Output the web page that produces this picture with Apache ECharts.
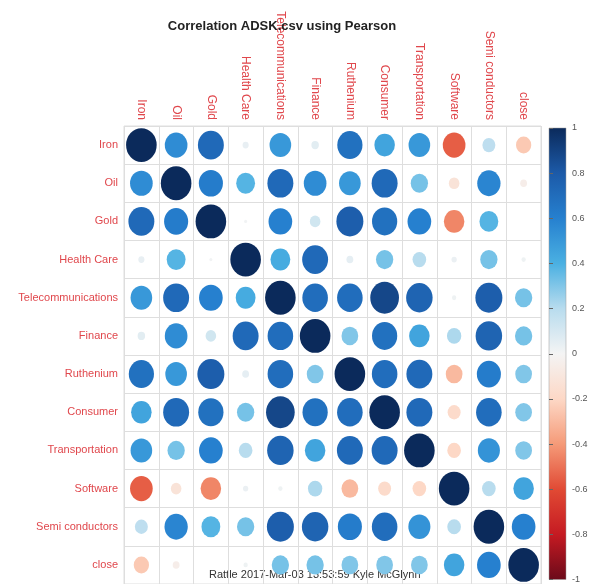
<!DOCTYPE html>
<html>
<head>
<meta charset="utf-8">
<script src="https://cdn.jsdelivr.net/npm/echarts@6/dist/echarts.min.js"></script>
<style>
  html, body { margin: 0; padding: 0; background: #ffffff; }
  #chart { width: 597px; height: 584px; }
</style>
</head>
<body>
<div id="chart"></div>
<script>
// Variables of the correlation matrix (columns and rows use the same order)
const variables = ['Iron', 'Oil', 'Gold', 'Health Care', 'Telecommunications', 'Finance',
  'Ruthenium', 'Consumer', 'Transportation', 'Software', 'Semi conductors', 'close'];

// Pearson correlation coefficients, one row per variable
const rowIron           = [ 1.00,  0.55,  0.72,  0.04,  0.50,  0.06,  0.68,  0.45,  0.50, -0.55,  0.18, -0.25];
const rowOil            = [ 0.55,  1.00,  0.62,  0.38,  0.72,  0.55,  0.50,  0.72,  0.32, -0.12,  0.58, -0.05];
const rowGold           = [ 0.72,  0.62,  1.00,  0.01,  0.60,  0.12,  0.78,  0.68,  0.60, -0.45,  0.38,  0.00];
const rowHealthCare     = [ 0.04,  0.38,  0.01,  1.00,  0.42,  0.72,  0.05,  0.32,  0.20,  0.03,  0.32,  0.02];
const rowTelecom        = [ 0.50,  0.72,  0.60,  0.42,  1.00,  0.70,  0.70,  0.88,  0.75,  0.02,  0.78,  0.32];
const rowFinance        = [ 0.06,  0.55,  0.12,  0.72,  0.70,  1.00,  0.30,  0.68,  0.45,  0.22,  0.75,  0.32];
const rowRuthenium      = [ 0.68,  0.50,  0.78,  0.05,  0.70,  0.30,  1.00,  0.70,  0.72, -0.30,  0.62,  0.30];
const rowConsumer       = [ 0.45,  0.72,  0.68,  0.32,  0.88,  0.68,  0.70,  1.00,  0.72, -0.18,  0.70,  0.30];
const rowTransportation = [ 0.50,  0.32,  0.60,  0.20,  0.75,  0.45,  0.72,  0.72,  1.00, -0.20,  0.52,  0.30];
const rowSoftware       = [-0.55, -0.12, -0.45,  0.03,  0.02,  0.22, -0.30, -0.18, -0.20,  1.00,  0.20,  0.45];
const rowSemi           = [ 0.18,  0.58,  0.38,  0.32,  0.78,  0.75,  0.62,  0.70,  0.52,  0.20,  1.00,  0.60];
const rowClose          = [-0.25, -0.05,  0.00,  0.02,  0.32,  0.32,  0.30,  0.30,  0.30,  0.45,  0.60,  1.00];

// Colour bar tick values
const colorbarTicks = [1, 0.8, 0.6, 0.4, 0.2, 0, -0.2, -0.4, -0.6, -0.8, -1];

// Diverging palette from -1 (dark red) to +1 (dark blue)
const palette = ['#6B0A1A', '#C51A22', '#E14A34', '#F59A78', '#FDD8C6', '#F4F4F4',
  '#B8DCEE', '#4AB0E2', '#2680CF', '#1C5AA8', '#0B2A5B'];

const matrix = [rowIron, rowOil, rowGold, rowHealthCare, rowTelecom, rowFinance,
  rowRuthenium, rowConsumer, rowTransportation, rowSoftware, rowSemi, rowClose];

const cells = [];
matrix.forEach(function (row, r) {
  row.forEach(function (v, c) {
    cells.push([variables[c], variables[r], v]);
  });
});

// Plot area geometry
const plot = { left: 124, top: 126, width: 417, height: 462 };
const cellW = plot.width / variables.length;
const cellH = plot.height / variables.length;

const labelRed = '#E0474C';
const lineGray = '#DEDEDE';

const chart = echarts.init(document.getElementById('chart'), null, { renderer: 'canvas' });

chart.setOption({
  backgroundColor: '#ffffff',
  animation: false,
  title: {
    text: 'Correlation ADSK.csv using Pearson',
    left: 277,
    textAlign: 'center',
    top: 15,
    textStyle: { fontFamily: 'Liberation Sans, Arial, sans-serif', fontSize: 13, fontWeight: 'bold', color: '#222' }
  },
  grid: [
    {
      left: plot.left, top: plot.top, width: plot.width, height: plot.height,
      show: true, borderColor: lineGray, borderWidth: 1, backgroundColor: '#ffffff'
    },
    {
      left: 549, top: 128, width: 17, height: 458,
      show: true, borderColor: '#9a9a9a', borderWidth: 0.5,
      backgroundColor: new echarts.graphic.LinearGradient(0, 1, 0, 0,
        palette.map(function (c, i) { return { offset: i / (palette.length - 1), color: c }; }))
    }
  ],
  xAxis: [
    {
      type: 'category', data: variables, position: 'top', gridIndex: 0,
      axisLine: { show: false }, axisTick: { show: false },
      splitLine: { show: true, interval: 0, lineStyle: { color: lineGray, width: 1 } },
      axisLabel: {
        rotate: 90, interval: 0, margin: 6, color: labelRed,
        fontFamily: 'Liberation Sans, Arial, sans-serif', fontSize: 12
      }
    },
    { type: 'value', gridIndex: 1, show: false, min: 0, max: 1 }
  ],
  yAxis: [
    {
      type: 'category', data: variables, inverse: true, gridIndex: 0,
      axisLine: { show: false }, axisTick: { show: false },
      splitLine: { show: true, interval: 0, lineStyle: { color: lineGray, width: 1 } },
      axisLabel: {
        interval: 0, margin: 6, color: labelRed,
        fontFamily: 'Liberation Sans, Arial, sans-serif', fontSize: 11
      }
    },
    {
      type: 'value', gridIndex: 1, position: 'right', min: -1, max: 1, interval: 0.2,
      axisLine: { show: false },
      axisTick: { show: true, length: 4, lineStyle: { color: '#666' } },
      splitLine: { show: false },
      axisLabel: {
        margin: 6, color: '#555', fontFamily: 'Liberation Sans, Arial, sans-serif', fontSize: 9,
        formatter: function (v) {
          const t = colorbarTicks.find(function (x) { return Math.abs(x - v) < 1e-6; });
          return t === undefined ? '' : String(t);
        }
      }
    }
  ],
  visualMap: {
    show: false, type: 'continuous', min: -1, max: 1, dimension: 2, seriesIndex: 0,
    inRange: { color: palette }
  },
  series: [
    {
      type: 'scatter', xAxisIndex: 0, yAxisIndex: 0, data: cells,
      symbol: 'circle',
      symbolSize: function (d) {
        const s = Math.sqrt(Math.abs(d[2]));
        return [0.88 * cellW * s, 0.88 * cellH * s];
      },
      itemStyle: { opacity: 1 },
      silent: true
    },
    { type: 'scatter', xAxisIndex: 1, yAxisIndex: 1, data: [], silent: true }
  ],
  graphic: [
    {
      type: 'text', left: 209, top: 569, silent: true,
      style: {
        text: 'Rattle 2017-Mar-03 13:53:59 Kyle McGlynn',
        fill: '#333', fontFamily: 'Liberation Sans, Arial, sans-serif', fontSize: 11
      }
    }
  ]
});
</script>
</body>
</html>
